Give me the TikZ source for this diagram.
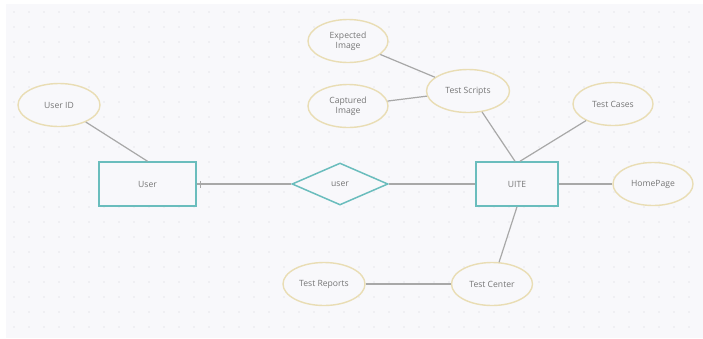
\documentclass[tikz,border=0pt]{standalone}
\usepackage{fontspec}
\setmainfont{Open Sans}
\usetikzlibrary{shapes.geometric}
\definecolor{bgc}{HTML}{F8F8FB}
\definecolor{teal}{HTML}{6ABDBD}
\definecolor{tan}{HTML}{E9DDB4}
\definecolor{linec}{HTML}{A8A8A8}
\definecolor{txt}{HTML}{767676}
\definecolor{dotc}{HTML}{E6E6EC}
\tikzset{
  x=1pt, y=-1pt,
  entity/.style={draw=teal, line width=1.5pt, fill=bgc, minimum width=#1, minimum height=44pt, inner sep=0pt, font=\fontsize{8.6}{9}\selectfont, text=txt},
  attr/.style={draw=tan, line width=1.4pt, fill=bgc, ellipse, minimum width=#1, minimum height=43pt, inner sep=0pt, align=center, font=\fontsize{8.6}{10}\selectfont, text=txt},
  rel/.style={draw=teal, line width=1.5pt, fill=bgc, diamond, aspect=2.3, minimum width=96pt, minimum height=42pt, inner sep=0pt, font=\fontsize{8.6}{9}\selectfont, text=txt},
  conn/.style={draw=linec, line width=1.2pt}
}
\begin{document}
\begin{tikzpicture}
\useasboundingbox (0,0) rectangle (703,338);
\fill[white] (0,0) rectangle (703,338);
\fill[bgc] (6,4) rectangle (703,338);
\foreach \i in {0,...,46} {\foreach \j in {0,...,22} {\fill[dotc] (14+\i*15,12+\j*15) circle (0.8);}}
% nodes
\node[attr=82pt] (uid) at (59,105) {User ID};
\node[entity=97pt] (user) at (147.5,184) {User};
\node[rel] (rel) at (340,184) {user};
\node[entity=82pt] (uite) at (517,184) {UITE};
\node[attr=80pt] (exp) at (348,41) {Expected\\Image};
\node[attr=80pt] (cap) at (348,106) {Captured\\Image};
\node[attr=83pt] (ts) at (468,91) {Test Scripts};
\node[attr=80pt] (tc) at (613,104) {Test Cases};
\node[attr=80pt] (hp) at (653,184) {HomePage};
\node[attr=81pt] (tcen) at (492,284) {Test Center};
\node[attr=82pt] (tr) at (324,284) {Test Reports};
% connectors
\coordinate (tka) at ([xshift=4pt,yshift=-3.5pt]user.east);
\coordinate (tkb) at ([xshift=4pt,yshift=3.5pt]user.east);
\draw[conn] (uid) -- (user.north);
\draw[conn] (user.east) -- (rel.west);
\draw[conn] (tka) -- (tkb);
\draw[conn] (rel.east) -- (uite.west);
\draw[conn] (exp) -- (ts);
\draw[conn] (cap) -- (ts);
\draw[conn] (ts) -- ([xshift=-2pt]uite.north);
\draw[conn] (tc) -- ([xshift=3pt]uite.north);
\draw[conn] (uite.east) -- (hp.west);
\draw[conn] (uite.south) -- (tcen);
\draw[conn] (tr.east) -- (tcen.west);
\end{tikzpicture}
\end{document}
